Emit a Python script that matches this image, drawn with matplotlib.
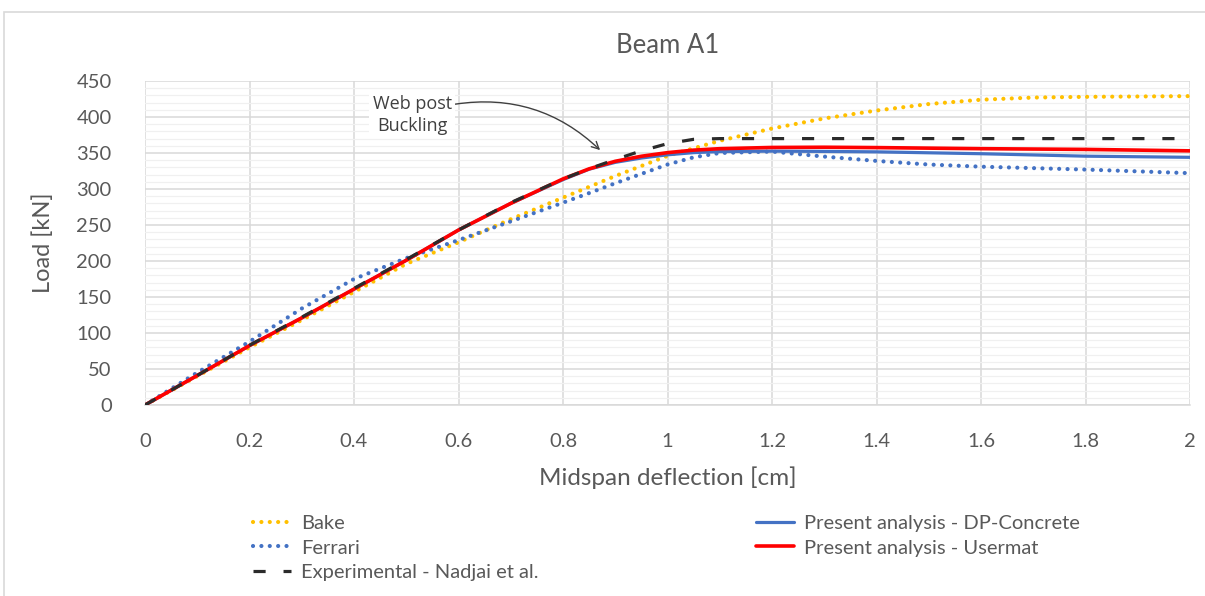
import numpy as np
import matplotlib.pyplot as plt
from matplotlib.patches import Rectangle
from matplotlib.ticker import MultipleLocator

plt.rcParams['font.family'] = ['Lato', 'DejaVu Sans']

# Data (deflection in cm, load in kN)
x_bake = [0, 0.1, 0.2, 0.3, 0.4, 0.5, 0.6, 0.7, 0.8, 0.9, 1.0, 1.1, 1.2, 1.3, 1.4, 1.5, 1.6, 1.7, 1.8, 2.0]
y_bake = [0, 40, 80, 118, 157, 196, 226, 258, 288, 318, 346, 367, 384, 398, 409, 418, 424, 427, 428, 429]

x_ferrari = [0, 0.1, 0.2, 0.3, 0.4, 0.5, 0.6, 0.7, 0.8, 0.86, 0.9, 0.95, 1.0, 1.05, 1.1, 1.2, 1.3, 1.4, 1.5, 1.6, 1.8, 2.0]
y_ferrari = [0, 45, 88, 134, 175, 204, 229, 255, 281, 297, 308, 321, 334, 344, 350, 352, 345, 339, 334, 331, 327, 322]

x_exp = [0, 0.1, 0.2, 0.3, 0.4, 0.5, 0.6, 0.7, 0.8, 0.85, 0.9, 0.95, 1.0, 1.05, 1.1, 1.2, 1.4, 1.6, 1.8, 2.0]
y_exp = [0, 41, 83, 122, 162, 202, 243, 281, 314, 328, 341, 353, 363, 369, 370, 370, 370, 370, 370, 370]

x_dp = [0, 0.1, 0.2, 0.3, 0.4, 0.5, 0.6, 0.7, 0.8, 0.85, 0.9, 0.95, 1.0, 1.05, 1.1, 1.2, 1.3, 1.4, 1.6, 1.8, 2.0]
y_dp = [0, 41, 82.5, 121, 161, 201, 243, 280, 313, 327.5, 337, 343, 347.5, 350.5, 352, 352.6, 352.2, 351.6, 349, 345.6, 344]

x_user = [0, 0.1, 0.2, 0.3, 0.4, 0.5, 0.6, 0.7, 0.8, 0.85, 0.9, 0.95, 1.0, 1.05, 1.1, 1.2, 1.3, 1.4, 1.6, 1.8, 2.0]
y_user = [0, 41, 82.5, 121, 161, 201, 243, 280, 314, 328, 338.5, 345.5, 350.5, 354, 356, 357.7, 358, 357.5, 356, 355, 353]

x_ticks = [0, 0.2, 0.4, 0.6, 0.8, 1.0, 1.2, 1.4, 1.6, 1.8, 2.0]
x_ticklabels = ['0', '0.2', '0.4', '0.6', '0.8', '1', '1.2', '1.4', '1.6', '1.8', '2']

txt = '#595959'
fig = plt.figure(figsize=(12.05, 5.96), dpi=100)
fig.patches.append(Rectangle((4 / 1205, -0.1), 1.2, 1 - 12 / 596 + 0.1, transform=fig.transFigure,
                             fill=False, edgecolor='#D9D9D9', linewidth=1.2))
ax = fig.add_axes([145 / 1205, 1 - 405 / 596, 1045 / 1205, 324 / 596])

dot = (0, (0.01, 2.0))
l1, = ax.plot(x_bake, y_bake, color='#FFC000', lw=3, linestyle=dot, dash_capstyle='round', label='Bake')
l2, = ax.plot(x_ferrari, y_ferrari, color='#4472C4', lw=3, linestyle=dot, dash_capstyle='round', label='Ferrari')
l4, = ax.plot(x_dp, y_dp, color='#4472C4', lw=2.3, solid_capstyle='round', label='Present analysis - DP-Concrete')
l5, = ax.plot(x_user, y_user, color='#FF0000', lw=2.6, solid_capstyle='round', label='Present analysis - Usermat')
l3, = ax.plot(x_exp, y_exp, color='#2B2B2B', lw=2.3, linestyle=(0, (3.8, 5.6)), label='Experimental - Nadjai et al.')
l5.set_zorder(4)
l3.set_zorder(5)

ax.set_xlim(0, 2)
ax.set_ylim(0, 450)
ax.set_xticks(x_ticks)
ax.set_xticklabels(x_ticklabels)
ax.yaxis.set_major_locator(MultipleLocator(50))
ax.yaxis.set_minor_locator(MultipleLocator(10))
ax.grid(True, which='major', color='#D9D9D9', lw=1.1)
ax.grid(True, which='minor', axis='y', color='#F0F0F0', lw=0.9)
ax.set_axisbelow(True)
for s in ['top', 'right', 'left']:
    ax.spines[s].set_visible(False)
ax.spines['bottom'].set_color('#D9D9D9')
ax.spines['bottom'].set_linewidth(1.1)
ax.tick_params(which='both', length=0, labelsize=14.5, colors=txt)
ax.tick_params(axis='x', pad=20)
ax.tick_params(axis='y', pad=24)

ax.set_title('Beam A1', fontsize=18.5, color=txt, pad=20)
ax.set_xlabel('Midspan deflection [cm]', fontsize=17.5, color=txt, labelpad=12)
ax.set_ylabel('Load [kN]', fontsize=17, color=txt, labelpad=16)

ax.annotate('Web post\nBuckling', xy=(0.871, 354), xytext=(0.587, 431),
            textcoords='data', ha='right', va='top', fontsize=13, color='#404040',
            family=['Open Sans', 'DejaVu Sans'], multialignment='center', linespacing=1.3,
            bbox=dict(boxstyle='square,pad=0.2', fc='white', ec='none'),
            arrowprops=dict(arrowstyle='->', color='#404040', lw=1.0,
                            connectionstyle='arc3,rad=-0.25', shrinkA=0, shrinkB=0,
                            relpos=(1.0, 0.75)))

leg_kw = dict(frameon=False, fontsize=14.5, handlelength=1.9, handletextpad=0.5,
              labelspacing=0.36, borderpad=0, loc='upper left', bbox_transform=fig.transFigure)
leg1 = fig.legend(handles=[l1, l2, l3], bbox_to_anchor=(243 / 1205, 1 - 505 / 596), **leg_kw)
for t in leg1.get_texts():
    t.set_color(txt)
leg2 = fig.legend(handles=[l4, l5], bbox_to_anchor=(746 / 1205, 1 - 505 / 596), **leg_kw)
for t in leg2.get_texts():
    t.set_color(txt)

fig.savefig('out.png', dpi=100)
